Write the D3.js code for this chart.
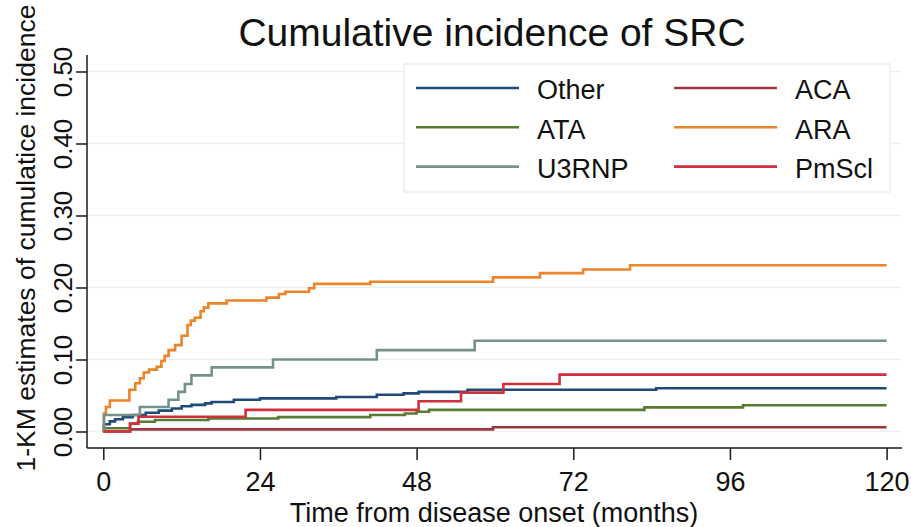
<!DOCTYPE html>
<html>
<head>
<meta charset="utf-8">
<script src="https://cdn.jsdelivr.net/npm/d3@7"></script>
<style>
  html, body { margin: 0; padding: 0; background: #fff; }
  svg { display: block; font-family: "Liberation Sans", Arial, sans-serif; }
</style>
</head>
<body>
<svg id="chart" width="911" height="527"></svg>
<script>
// Cumulative incidence (1 - Kaplan-Meier) of SRC by autoantibody group

const monthTicks = [0, 24, 48, 72, 96, 120];
const riskTicks = [0, 0.1, 0.2, 0.3, 0.4, 0.5];

const otherTime = [0, 0.1, 1.0, 1.8, 3.0, 4.5, 6.5, 8.5, 10.5, 12.0, 13.5, 15.6, 16.6, 20.0, 24.0, 35.7, 41.9, 46.0, 48.3, 55.8, 84.7, 120];
const otherRisk = [0, 0.010, 0.014, 0.017, 0.020, 0.023, 0.026, 0.029, 0.032, 0.035, 0.037, 0.039, 0.041, 0.044, 0.046, 0.048, 0.051, 0.053, 0.055, 0.058, 0.060, 0.060];

const acaTime = [0, 4.1, 59.7, 120];
const acaRisk = [0, 0.003, 0.006, 0.006];

const ataTime = [0, 0.1, 4.1, 5.3, 7.9, 16.1, 26.8, 40.9, 46.2, 48.0, 49.9, 82.9, 98.0, 120];
const ataRisk = [0, 0.0045, 0.011, 0.0135, 0.016, 0.018, 0.020, 0.023, 0.025, 0.0275, 0.030, 0.0335, 0.0365, 0.0365];

const araTime = [0, 0.1, 0.4, 1.0, 4.0, 4.9, 5.6, 6.2, 7.0, 8.2, 8.9, 9.4, 10.0, 11.0, 12.0, 12.9, 13.4, 14.0, 14.9, 15.4, 16.1, 18.9, 25.0, 26.9, 27.9, 31.5, 32.3, 40.9, 59.7, 66.9, 73.5, 80.7, 120];
const araRisk = [0, 0.025, 0.034, 0.043, 0.058, 0.067, 0.074, 0.082, 0.086, 0.090, 0.098, 0.105, 0.113, 0.120, 0.133, 0.148, 0.154, 0.158, 0.167, 0.172, 0.178, 0.182, 0.186, 0.191, 0.194, 0.199, 0.205, 0.208, 0.214, 0.220, 0.225, 0.231, 0.231];

const u3rnpTime = [0, 0.1, 5.6, 10.0, 11.5, 12.5, 13.5, 16.6, 26.0, 41.9, 56.9, 120];
const u3rnpRisk = [0, 0.023, 0.034, 0.044, 0.055, 0.066, 0.078, 0.089, 0.100, 0.113, 0.126, 0.126];

const pmsclTime = [0, 4.1, 5.4, 21.8, 48.3, 54.8, 61.3, 69.9, 120];
const pmsclRisk = [0, 0.011, 0.0205, 0.030, 0.042, 0.054, 0.066, 0.079, 0.079];

const groupNames = ["Other", "ACA", "ATA", "ARA", "U3RNP", "PmScl"];
const groupColors = ["#1e4b78", "#9a383e", "#587a32", "#ec8429", "#75928a", "#d0303b"];

const series = [
  [otherTime, otherRisk], [acaTime, acaRisk], [ataTime, ataRisk],
  [araTime, araRisk], [u3rnpTime, u3rnpRisk], [pmsclTime, pmsclRisk]
].map(([t, r], i) => ({
  name: groupNames[i],
  color: groupColors[i],
  points: t.map((m, j) => ({ m, r: r[j] }))
}));

const svg = d3.select("#chart");

const plot = { left: 87, right: 902, top: 55, bottom: 448 };
const x = d3.scaleLinear().domain([0, 120]).range([103.3, 886.6]);
const y = d3.scaleLinear().domain([0, 0.5]).range([431.5, 71.5]);

// horizontal grid
svg.append("g")
  .selectAll("line")
  .data(riskTicks)
  .join("line")
  .attr("x1", plot.left).attr("x2", plot.right)
  .attr("y1", d => y(d)).attr("y2", d => y(d))
  .attr("stroke", "#e9f1f4")
  .attr("stroke-width", 1.5);

// axes
const xAxis = svg.append("g")
  .attr("transform", `translate(0,${plot.bottom})`)
  .call(d3.axisBottom(x).tickValues(monthTicks).tickSize(12).tickPadding(0).tickFormat(d3.format("d")));
xAxis.select(".domain").attr("d", `M${plot.left},0H${plot.right}`);

const yAxis = svg.append("g")
  .attr("transform", `translate(${plot.left},0)`)
  .call(d3.axisLeft(y).tickValues(riskTicks).tickSize(11).tickFormat(d3.format(".2f")));
yAxis.select(".domain").attr("d", `M0,${plot.top}V${plot.bottom}`);

svg.selectAll(".domain, .tick line").attr("stroke", "#1a1a1a").attr("stroke-width", 1.5);

xAxis.selectAll(".tick text")
  .attr("y", 43).attr("dy", null)
  .attr("font-size", 27)
  .attr("fill", "#111")
  .attr("font-family", "Liberation Sans, Arial, sans-serif");

yAxis.selectAll(".tick text")
  .attr("x", null).attr("dy", null)
  .attr("font-size", 26)
  .attr("fill", "#111")
  .attr("font-family", "Liberation Sans, Arial, sans-serif")
  .attr("text-anchor", "middle")
  .attr("transform", "translate(-15,0) rotate(-90)");

// step curves
const line = d3.line()
  .x(d => x(d.m))
  .y(d => y(d.r))
  .curve(d3.curveStepAfter);

svg.append("g")
  .selectAll("path")
  .data(series)
  .join("path")
  .attr("d", d => line(d.points))
  .attr("fill", "none")
  .attr("stroke", d => d.color)
  .attr("stroke-width", 2.6);

// legend
const legend = svg.append("g");
legend.append("rect")
  .attr("x", 404).attr("y", 64)
  .attr("width", 486).attr("height", 128)
  .attr("fill", "#fff")
  .attr("stroke", "#e3eaee")
  .attr("stroke-width", 1.2);

const legendItems = legend.selectAll("g.item")
  .data(series)
  .join("g")
  .attr("class", "item")
  .attr("transform", (d, i) => `translate(${i % 2 === 0 ? 416 : 674},${88 + Math.floor(i / 2) * 39.3})`);

legendItems.append("line")
  .attr("x1", 0).attr("x2", 103)
  .attr("stroke", d => d.color)
  .attr("stroke-width", 2.6);

legendItems.append("text")
  .attr("x", 121)
  .attr("dy", "0.42em")
  .attr("font-size", 27)
  .attr("fill", "#111")
  .text(d => d.name);

// titles
svg.append("text")
  .attr("x", 492).attr("y", 46)
  .attr("text-anchor", "middle")
  .attr("font-size", 39)
  .attr("fill", "#111")
  .text("Cumulative incidence of SRC");

svg.append("text")
  .attr("x", 494).attr("y", 521.5)
  .attr("text-anchor", "middle")
  .attr("font-size", 27)
  .attr("fill", "#111")
  .text("Time from disease onset (months)");

svg.append("text")
  .attr("transform", "translate(35,238) rotate(-90)")
  .attr("text-anchor", "middle")
  .attr("font-size", 26.5)
  .attr("fill", "#111")
  .text("1-KM estimates of cumulatice incidence");
</script>
</body>
</html>
